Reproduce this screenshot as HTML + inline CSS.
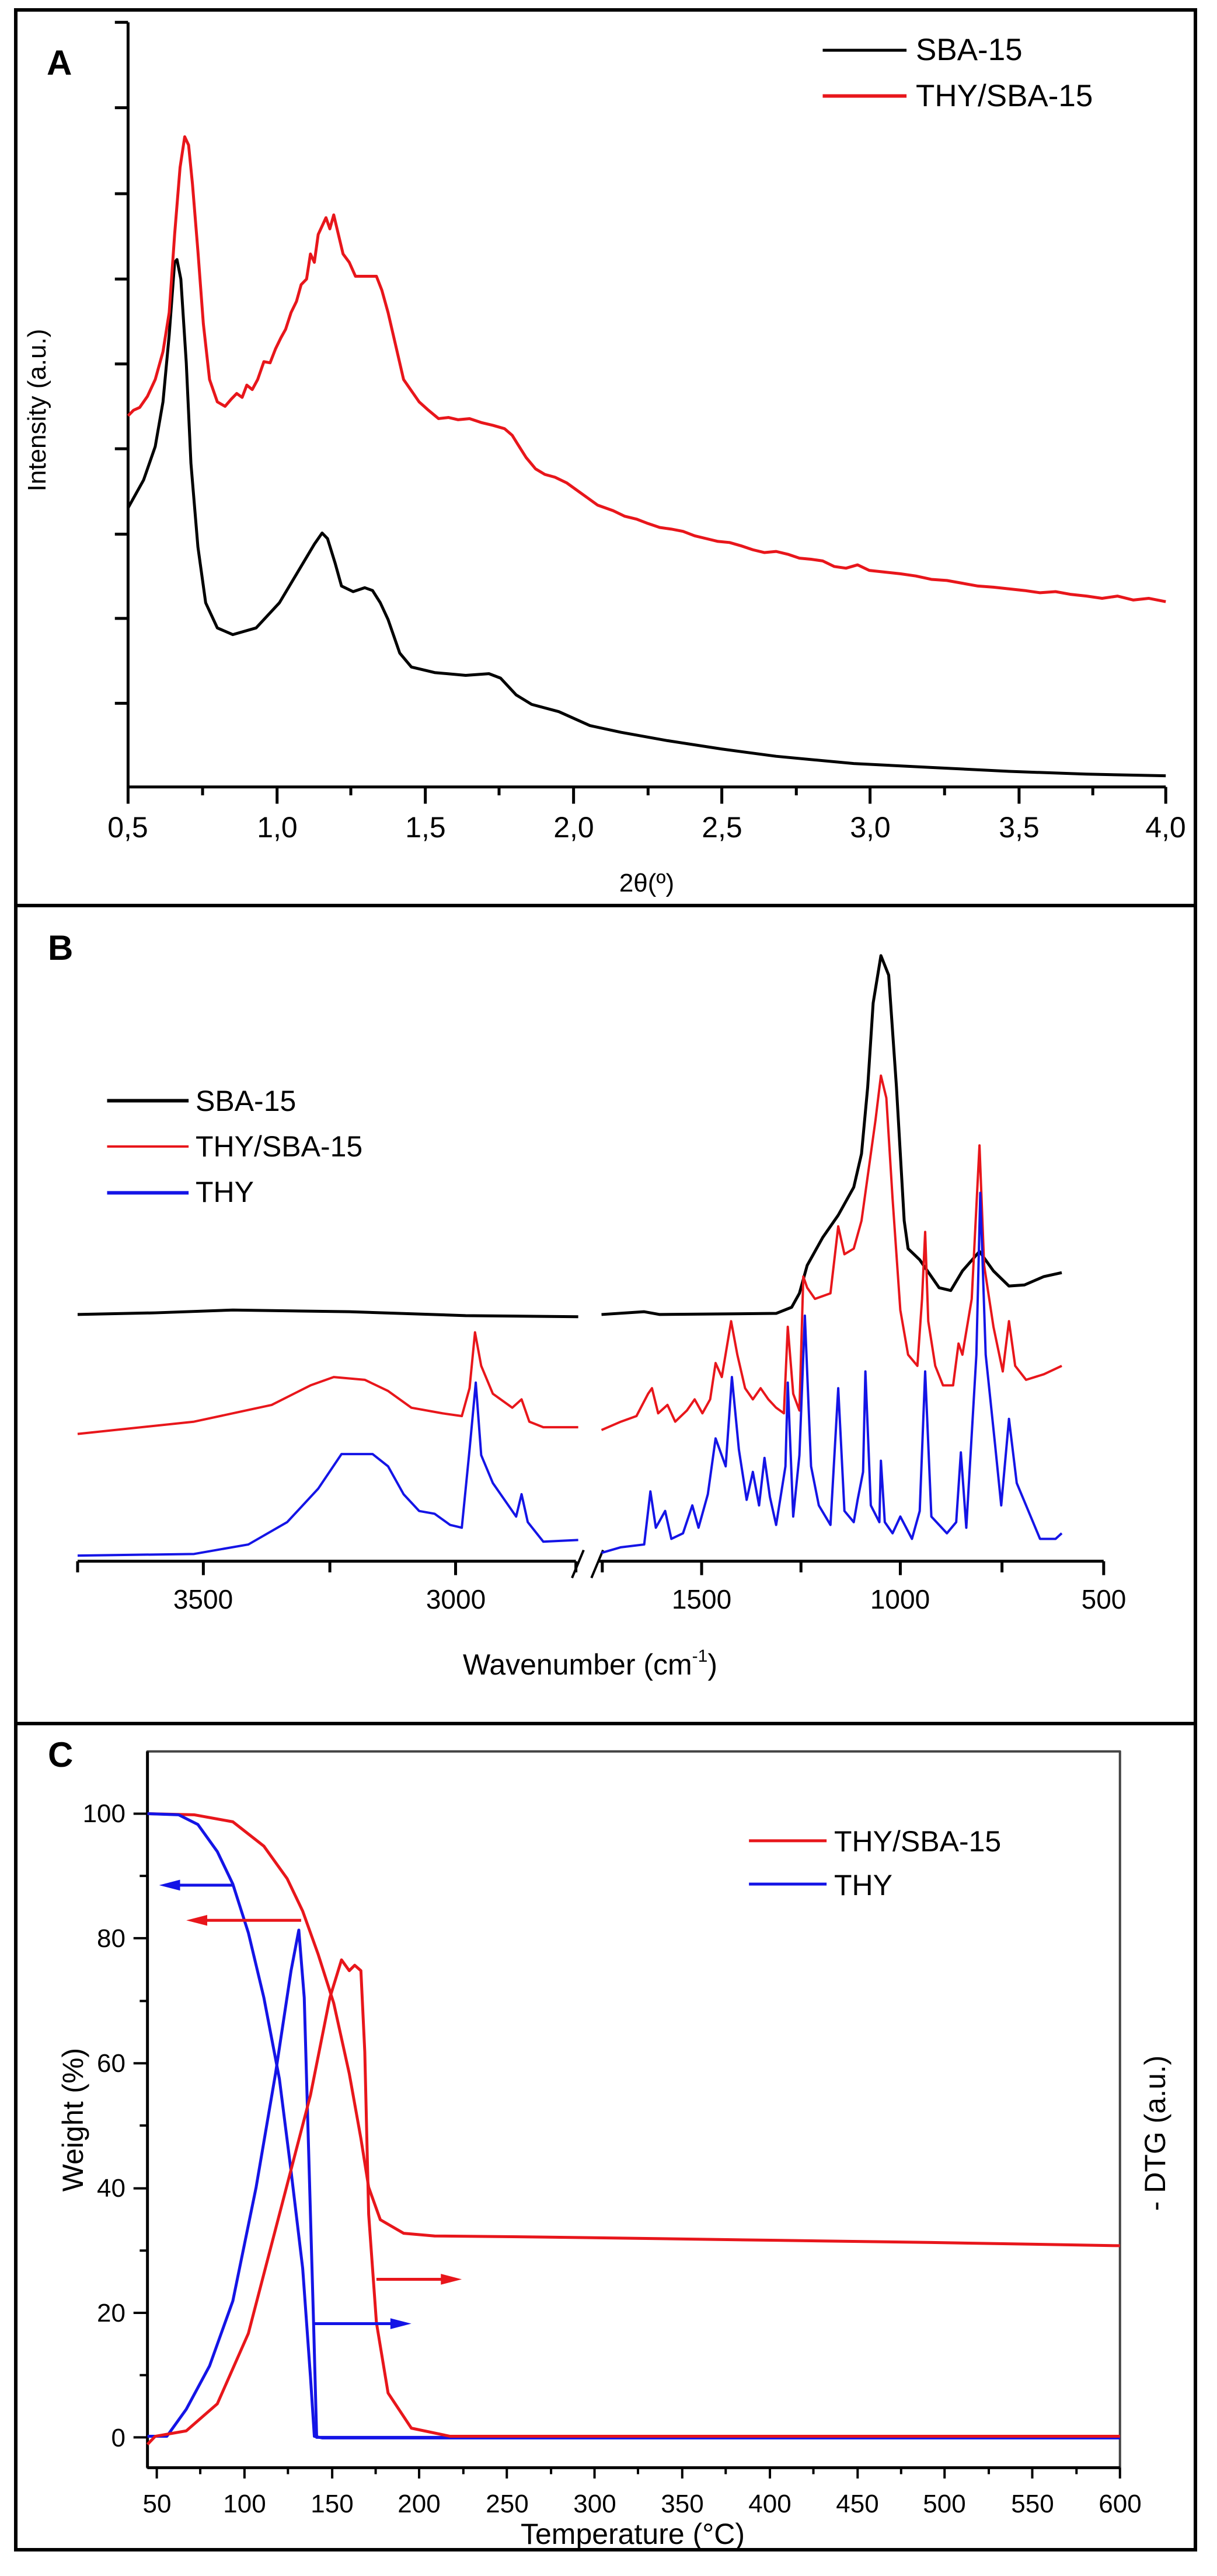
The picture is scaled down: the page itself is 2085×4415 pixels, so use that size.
<!DOCTYPE html>
<html><head><meta charset="utf-8"><style>
html,body{margin:0;padding:0;background:#fff}
svg{display:block}
text{font-family:"Liberation Sans",sans-serif}
.n{fill:none;vector-effect:non-scaling-stroke;stroke-linejoin:round}
</style></head><body>
<svg width="2085" height="4415" viewBox="0 0 2085 4415" xmlns="http://www.w3.org/2000/svg">
<rect width="2085" height="4415" fill="#fff"/>
<rect x="27" y="17" width="2021" height="4353" fill="none" stroke="#000" stroke-width="6"/>
<line x1="27" y1="1552" x2="2048" y2="1552" stroke="#000" stroke-width="6"/>
<line x1="27" y1="2954" x2="2048" y2="2954" stroke="#000" stroke-width="6"/>

<!-- PANEL A -->
<g transform="scale(1.3297,0.9566)">
  <polyline class="n" stroke="#000" stroke-width="5" points="165,40 165,1410 1502,1410"/>
  <path class="n" stroke="#000" stroke-width="5" d="M148,40H165M148,193H165M148,347H165M148,500H165M148,652H165M148,804H165M148,957H165M148,1108H165M148,1260H165
  M165,1410V1440M357,1410V1440M548,1410V1440M739,1410V1440M930,1410V1440M1121,1410V1440M1313,1410V1440M1502,1410V1440
  M261,1410V1425M452,1410V1425M643,1410V1425M835,1410V1425M1026,1410V1425M1217,1410V1425M1408,1410V1425"/>
 <polyline class="n" stroke="#000" stroke-width="5" points="165,910 185,860 200,800 210,720 218,600 225,470 228,465 233,500 240,650 246,830 255,980 265,1080 280,1125 300,1137 330,1125 360,1080 390,1010 405,975 415,955 422,965 432,1010 440,1050 455,1060 470,1053 480,1058 490,1080 500,1110 515,1170 530,1195 560,1205 600,1210 630,1207 645,1215 665,1245 685,1262 720,1275 760,1300 800,1312 860,1327 930,1342 1000,1355 1100,1368 1200,1375 1300,1382 1400,1387 1502,1390"/>
 <polyline class="n" stroke="#e8161b" stroke-width="5" points="165,745 172,735 180,730 190,710 200,680 210,630 218,560 225,420 232,300 238,245 243,260 248,330 255,450 262,580 270,680 280,720 290,728 298,715 305,705 312,712 318,690 325,698 332,680 340,648 348,650 355,625 362,605 368,590 375,560 382,540 388,510 395,500 400,455 405,470 410,420 415,405 420,390 425,410 430,385 436,420 442,455 450,470 458,495 470,495 485,495 492,520 500,560 510,620 520,680 530,700 540,720 552,735 565,750 578,748 590,752 605,750 620,757 635,762 650,768 660,780 668,798 678,820 690,840 702,850 715,855 730,865 745,880 760,895 770,905 790,915 805,925 820,930 835,938 850,945 865,948 880,952 895,960 910,965 925,970 940,972 955,978 970,985 985,990 1000,988 1015,993 1030,1000 1045,1002 1060,1005 1075,1015 1090,1018 1105,1012 1120,1022 1140,1025 1160,1028 1180,1032 1200,1038 1220,1040 1240,1045 1260,1050 1280,1052 1300,1055 1320,1058 1340,1062 1360,1060 1380,1065 1400,1068 1420,1072 1440,1068 1460,1075 1480,1072 1502,1078"/>
 <line class="n" x1="1060" y1="90" x2="1168" y2="90" stroke="#000" stroke-width="5"/>
 <line class="n" x1="1060" y1="172" x2="1168" y2="172" stroke="#e8161b" stroke-width="6"/>
</g>
<text x="80" y="128" font-size="60" font-weight="bold">A</text>
<text x="1569" y="103" font-size="53">SBA-15</text>
<text x="1569" y="182" font-size="53">THY/SBA-15</text>
<g font-size="50" text-anchor="middle">
 <text x="219" y="1435">0,5</text><text x="475" y="1435">1,0</text><text x="729" y="1435">1,5</text><text x="983" y="1435">2,0</text>
 <text x="1237" y="1435">2,5</text><text x="1491" y="1435">3,0</text><text x="1746" y="1435">3,5</text><text x="1997" y="1435">4,0</text>
</g>
<text transform="translate(78,703) rotate(-90)" font-size="44" text-anchor="middle">Intensity (a.u.)</text>
<text x="1108" y="1528" font-size="44" text-anchor="middle">2θ(º)</text>

<!-- PANEL B -->
<g transform="translate(0,1480) scale(1.3297,0.9566)">
 <path class="n" stroke="#000" stroke-width="5" d="M100,1250H742M772,1250H1422
 M100,1250V1270M262,1250V1275M425,1250V1270M587,1250V1275M742,1250V1270M776,1250V1270M904,1250V1275M1032,1250V1270M1160,1250V1275M1291,1250V1270M1422,1250V1275"/>
 <path class="n" stroke="#000" stroke-width="4" d="M737,1280L752,1230M762,1280L777,1230"/>
 <polyline class="n" stroke="#000" stroke-width="5" points="100,808 200,805 300,800 450,803 600,810 745,812"/>
 <polyline class="n" stroke="#000" stroke-width="5" points="775,808 830,803 850,808 1000,806 1020,795 1030,770 1040,720 1060,670 1080,630 1100,580 1110,520 1118,400 1125,250 1135,165 1145,200 1155,400 1165,640 1170,690 1185,710 1210,760 1225,765 1240,730 1262,695 1280,730 1300,757 1320,755 1345,740 1368,733"/>
 <polyline class="n" stroke="#e8161b" stroke-width="4" points="100,1022 250,1000 350,970 400,935 430,920 470,925 500,945 530,975 570,985 595,990 605,940 612,840 620,900 635,950 660,975 672,960 682,1000 700,1010 745,1010"/>
 <polyline class="n" stroke="#e8161b" stroke-width="4" points="775,1015 800,1000 820,990 835,950 840,940 848,985 860,970 870,1000 885,980 895,960 905,985 915,960 922,895 930,920 942,820 950,880 960,940 970,960 980,940 990,960 1000,975 1010,985 1015,830 1022,950 1030,980 1035,740 1040,760 1050,780 1070,770 1080,650 1088,700 1100,690 1110,640 1118,560 1128,460 1135,380 1142,420 1150,600 1160,800 1170,880 1182,900 1188,780 1192,660 1196,820 1205,900 1215,935 1228,935 1235,860 1240,880 1252,780 1262,505 1268,720 1280,830 1292,910 1300,820 1308,900 1322,925 1345,915 1368,900"/>
 <polyline class="n" stroke="#1414e6" stroke-width="4" points="100,1240 250,1237 320,1220 370,1180 410,1120 440,1058 480,1058 500,1080 520,1130 540,1160 560,1165 580,1185 595,1190 605,1050 613,930 620,1060 635,1110 650,1140 665,1170 672,1130 680,1180 700,1215 745,1212"/>
 <polyline class="n" stroke="#1414e6" stroke-width="4" points="775,1235 800,1225 830,1220 838,1125 845,1190 857,1160 865,1210 880,1200 892,1150 900,1190 912,1130 922,1030 935,1080 943,920 952,1050 962,1140 970,1090 978,1150 985,1065 992,1135 1000,1185 1012,1080 1015,930 1022,1170 1030,1060 1037,810 1045,1080 1055,1150 1070,1185 1080,940 1088,1160 1100,1180 1105,1140 1112,1090 1115,910 1122,1150 1133,1180 1135,1070 1140,1180 1150,1200 1160,1170 1175,1210 1185,1160 1192,910 1200,1170 1220,1200 1232,1180 1238,1055 1245,1190 1258,880 1263,590 1270,880 1282,1040 1290,1150 1300,995 1310,1110 1325,1160 1340,1210 1360,1210 1368,1200"/>
 <line class="n" x1="138" y1="425" x2="243" y2="425" stroke="#000" stroke-width="6"/>
 <line class="n" x1="138" y1="507" x2="243" y2="507" stroke="#e8161b" stroke-width="4"/>
 <line class="n" x1="138" y1="590" x2="243" y2="590" stroke="#1414e6" stroke-width="6"/>
</g>
<text x="82" y="1645" font-size="60" font-weight="bold">B</text>
<g font-size="50">
 <text x="335" y="1904">SBA-15</text><text x="335" y="1982">THY/SBA-15</text><text x="335" y="2060">THY</text>
</g>
<g font-size="46" text-anchor="middle">
 <text x="348" y="2757">3500</text><text x="781" y="2757">3000</text><text x="1202" y="2757">1500</text><text x="1542" y="2757">1000</text><text x="1891" y="2757">500</text>
</g>
<text x="1011" y="2870" font-size="50" text-anchor="middle">Wavenumber (cm<tspan font-size="30" dy="-22">-1</tspan><tspan dy="22">)</tspan></text>

<!-- PANEL C -->
<g transform="translate(0,2960) scale(1.3297,0.9279)">
 <rect class="n" x="190" y="45" width="1253" height="1323" stroke="#444" stroke-width="4"/>
 <line class="n" x1="190" y1="45" x2="190" y2="1368" stroke="#000" stroke-width="5"/>
 <line class="n" x1="190" y1="1368" x2="1443" y2="1368" stroke="#000" stroke-width="5"/>
 <path class="n" stroke="#000" stroke-width="4" d="M172,160H190M172,390H190M172,621H190M172,852H190M172,1082H190M172,1312H190
 M180,275H190M180,506H190M180,736H190M180,967H190M180,1197H190
 M202,1368V1388M315,1368V1388M428,1368V1388M540,1368V1388M653,1368V1388M766,1368V1388M879,1368V1388M992,1368V1388M1105,1368V1388M1217,1368V1388M1330,1368V1388M1443,1368V1388
 M258,1368V1380M371,1368V1380M484,1368V1380M597,1368V1380M710,1368V1380M822,1368V1380M935,1368V1380M1048,1368V1380M1161,1368V1380M1274,1368V1380M1387,1368V1380"/>
 <polyline class="n" stroke="#e8161b" stroke-width="5" points="190,160 250,162 300,175 340,220 370,280 390,340 410,420 430,510 450,640 465,760 475,850 490,910 520,935 560,940 700,942 1000,948 1200,952 1443,958"/>
 <polyline class="n" stroke="#1414e6" stroke-width="5" points="190,160 230,162 255,180 280,230 300,290 320,380 340,500 360,650 375,820 390,1000 400,1200 405,1310 415,1313 1443,1313"/>
 <polyline class="n" stroke="#1414e6" stroke-width="5" points="190,1310 215,1310 240,1260 270,1180 300,1060 330,850 355,640 375,450 385,375 392,500 398,800 404,1100 408,1312 1443,1312"/>
 <polyline class="n" stroke="#e8161b" stroke-width="5" points="190,1325 200,1310 240,1300 280,1250 320,1120 360,900 400,680 425,500 440,430 450,450 457,440 465,450 470,600 475,900 485,1100 500,1230 530,1295 580,1310 1443,1310"/>
 <line class="n" x1="965" y1="210" x2="1065" y2="210" stroke="#e8161b" stroke-width="5"/>
 <line class="n" x1="965" y1="290" x2="1065" y2="290" stroke="#1414e6" stroke-width="5"/>
 <line class="n" x1="300" y1="292" x2="225" y2="292" stroke="#1414e6" stroke-width="5"/>
 <polygon points="205,292 232,282 232,302" fill="#1414e6"/>
 <line class="n" x1="388" y1="357" x2="260" y2="357" stroke="#e8161b" stroke-width="5"/>
 <polygon points="240,357 267,347 267,367" fill="#e8161b"/>
 <line class="n" x1="485" y1="1020" x2="575" y2="1020" stroke="#e8161b" stroke-width="5"/>
 <polygon points="595,1020 568,1010 568,1030" fill="#e8161b"/>
 <line class="n" x1="405" y1="1102" x2="510" y2="1102" stroke="#1414e6" stroke-width="5"/>
 <polygon points="530,1102 503,1092 503,1112" fill="#1414e6"/>
</g>
<text x="82" y="3028" font-size="60" font-weight="bold">C</text>
<g font-size="44" text-anchor="end">
 <text x="215" y="3123">100</text><text x="215" y="3337">80</text><text x="215" y="3551">60</text><text x="215" y="3765">40</text><text x="215" y="3979">20</text><text x="215" y="4193">0</text>
</g>
<g font-size="44" text-anchor="middle">
 <text x="269" y="4306">50</text><text x="419" y="4306">100</text><text x="569" y="4306">150</text><text x="718" y="4306">200</text><text x="869" y="4306">250</text><text x="1019" y="4306">300</text><text x="1169" y="4306">350</text><text x="1319" y="4306">400</text><text x="1469" y="4306">450</text><text x="1618" y="4306">500</text><text x="1769" y="4306">550</text><text x="1919" y="4306">600</text>
</g>
<text x="1084" y="4360" font-size="50" text-anchor="middle">Temperature (°C)</text>
<text transform="translate(142,3633) rotate(-90)" font-size="50" text-anchor="middle">Weight (%)</text>
<text transform="translate(1996,3656) rotate(-90)" font-size="50" text-anchor="middle">- DTG (a.u.)</text>
<text x="1429" y="3173" font-size="50">THY/SBA-15</text>
<text x="1429" y="3248" font-size="50">THY</text>
</svg>
</body></html>
